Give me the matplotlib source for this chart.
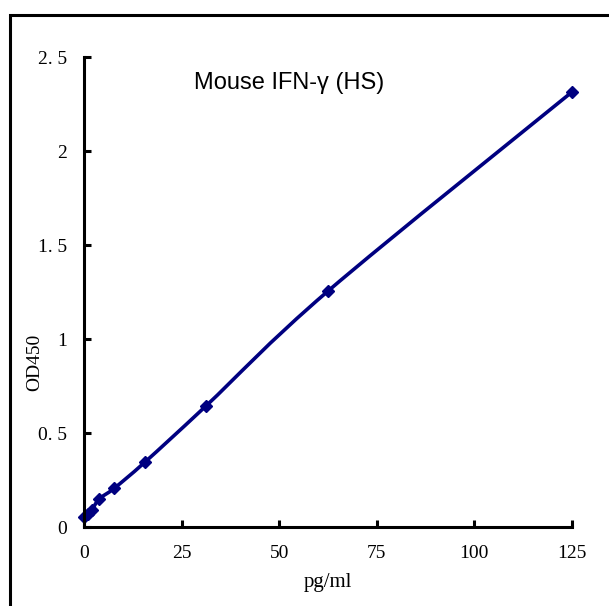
import matplotlib
matplotlib.use("Agg")
import matplotlib.pyplot as plt
from matplotlib.path import Path
from matplotlib.patches import PathPatch, Rectangle

# standard curve readings
conc = [0, 0.98, 1.95, 3.9, 7.8, 15.6, 31.25, 62.5, 125]
od = [0.053, 0.07, 0.088, 0.149, 0.207, 0.345, 0.644, 1.255, 2.314]

yticks = [0, 0.5, 1, 1.5, 2, 2.5]
ytick_labels = ["0", "0. 5", "1", "1. 5", "2", "2. 5"]
xticks = [0, 25, 50, 75, 100, 125]
xtick_labels = ["0", "25", "50", "75", "100", "125"]

line_color = "#000080"
serif = ["Liberation Serif", "DejaVu Serif"]


def smooth_path(xs, ys):
    # cubic bezier through every point (catmull-rom style control points)
    verts = [(xs[0], ys[0])]
    codes = [Path.MOVETO]
    n = len(xs)
    for i in range(n - 1):
        x0, y0 = xs[max(i - 1, 0)], ys[max(i - 1, 0)]
        x1, y1 = xs[i], ys[i]
        x2, y2 = xs[i + 1], ys[i + 1]
        x3, y3 = xs[min(i + 2, n - 1)], ys[min(i + 2, n - 1)]
        c1 = (x1 + (x2 - x0) / 6.0, y1 + (y2 - y0) / 6.0)
        c2 = (x2 - (x3 - x1) / 6.0, y2 - (y3 - y1) / 6.0)
        verts += [c1, c2, (x2, y2)]
        codes += [Path.CURVE4] * 3
    return Path(verts, codes)


fig = plt.figure(figsize=(6.09, 6.06), dpi=100)
fig.patches.append(Rectangle((10 / 609, -0.1), 1.2, 1 - 15 / 606 + 0.1,
                             transform=fig.transFigure, fill=False,
                             edgecolor="black", linewidth=2.2))

ax = fig.add_axes([84 / 609, 1 - 527 / 606, 488 / 609, 470 / 606])
ax.add_patch(PathPatch(smooth_path(conc, od), fill=False,
                       edgecolor=line_color, linewidth=2.6))
ax.plot(conc, od, linestyle="none", marker="D", markersize=6,
        color=line_color, clip_on=False)

ax.set_xlim(0, 125)
ax.set_ylim(0, 2.5)
for s in ["top", "right"]:
    ax.spines[s].set_visible(False)
for s in ["left", "bottom"]:
    ax.spines[s].set_linewidth(2.2)

ax.set_xticks(xticks)
ax.set_xticklabels(xtick_labels, family=serif, fontsize=14)
ax.set_yticks(yticks)
ax.set_yticklabels(ytick_labels, family=serif, fontsize=14)
ax.tick_params(direction="in", length=5, width=2.2, pad=12)
ax.tick_params(axis="x", pad=13)

fig.text(328 / 609, 1 - 583 / 606, "pg/ml", family=serif, fontsize=15,
         ha="center", va="center")
fig.text(35 / 609, 1 - 362 / 606, "OD450", family=serif, fontsize=14,
         rotation=90, ha="center", va="center")
fig.text(289 / 609, 1 - 83 / 606, "Mouse IFN-\u03b3 (HS)",
         family=["Liberation Sans", "DejaVu Sans"], fontsize=17,
         ha="center", va="center")

fig.savefig("out.png", dpi=100)
